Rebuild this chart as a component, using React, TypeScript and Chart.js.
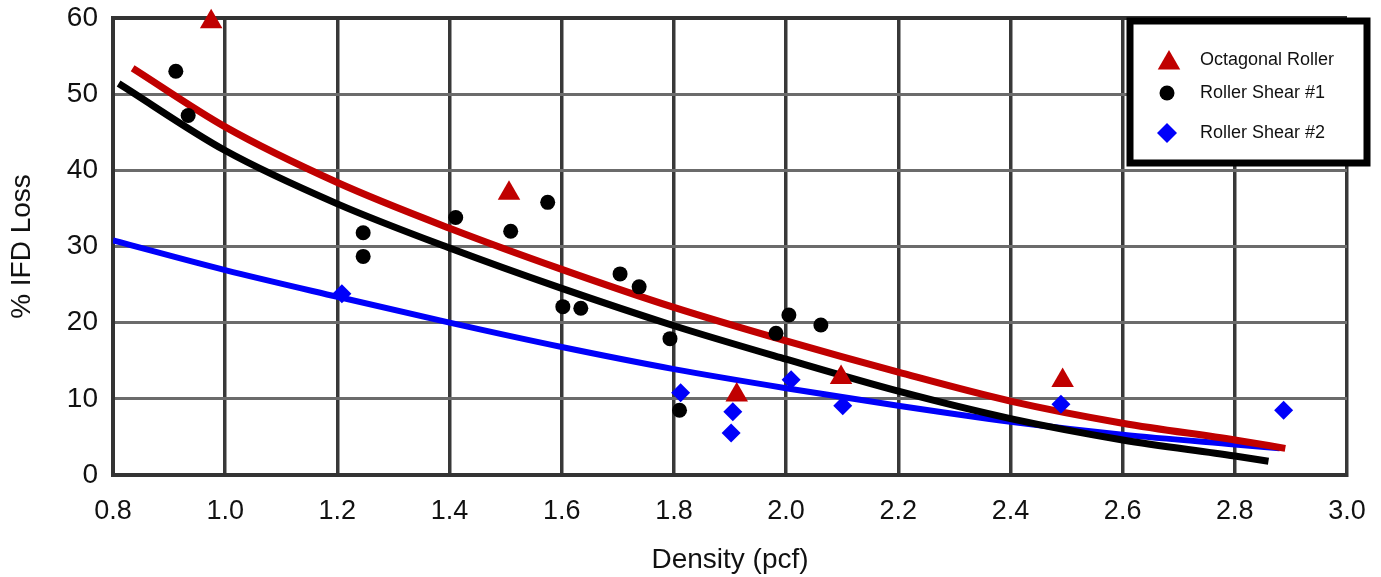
import React, { useEffect, useRef } from "react";
import { Chart, registerables } from "chart.js";

Chart.register(...registerables);

// ---- Data ----
const seriesNames = ["Octagonal Roller", "Roller Shear #1", "Roller Shear #2"];

const octagonalX = [0.975, 1.506, 1.912, 2.098, 2.493];
const octagonalY = [59.5, 37.0, 10.5, 12.8, 12.4];

const shear1X = [0.912, 0.934, 1.246, 1.246, 1.411, 1.509, 1.575, 1.602, 1.634, 1.704, 1.738, 1.793, 1.81, 1.982, 2.005, 2.062];
const shear1Y = [53.0, 47.2, 31.8, 28.7, 33.8, 32.0, 35.8, 22.1, 21.9, 26.4, 24.7, 17.9, 8.5, 18.6, 21.0, 19.7];

const shear2X = [1.208, 1.812, 1.905, 1.902, 2.009, 2.101, 2.49, 2.887];
const shear2Y = [23.8, 10.8, 8.3, 5.5, 12.5, 9.1, 9.3, 8.5];

const octagonalFitX = [0.835, 1.0, 1.2, 1.4, 1.6, 1.8, 2.0, 2.2, 2.4, 2.6, 2.8, 2.89];
const octagonalFitY = [53.4, 45.7, 38.4, 32.4, 27.0, 22.0, 17.6, 13.5, 9.7, 6.8, 4.6, 3.5];

const shear1FitX = [0.81, 1.0, 1.2, 1.4, 1.6, 1.8, 2.0, 2.2, 2.4, 2.6, 2.8, 2.86];
const shear1FitY = [51.4, 42.6, 35.6, 29.8, 24.5, 19.6, 15.2, 11.0, 7.4, 4.6, 2.5, 1.8];

const shear2FitX = [0.8, 1.0, 1.2, 1.4, 1.6, 1.8, 2.0, 2.2, 2.4, 2.6, 2.8, 2.88];
const shear2FitY = [30.8, 26.9, 23.4, 20.0, 16.8, 13.9, 11.4, 9.1, 7.0, 5.3, 4.0, 3.5];

const xMin = 0.8;
const xMax = 3.0;
const xStep = 0.2;
const yMin = 0;
const yMax = 60;
const yStep = 10;

// ---- Styles ----
const RED = "rgb(192,0,0)";
const BLACK = "#000000";
const BLUE = "rgb(0,0,250)";
const FONT = "'Liberation Sans', Arial, sans-serif";

const toPoints = (xs: number[], ys: number[]) => xs.map((x, i) => ({ x, y: ys[i] }));

function drawMarker(ctx: CanvasRenderingContext2D, style: string, x: number, y: number, r: number, color: string) {
  ctx.fillStyle = color;
  ctx.beginPath();
  if (style === "triangle") {
    ctx.moveTo(x, y - r);
    ctx.lineTo(x + r * Math.sin(Math.PI / 3), y + r * 0.5);
    ctx.lineTo(x - r * Math.sin(Math.PI / 3), y + r * 0.5);
    ctx.closePath();
  } else if (style === "circle") {
    ctx.arc(x, y, r, 0, Math.PI * 2);
  } else {
    ctx.moveTo(x, y - r);
    ctx.lineTo(x + r, y);
    ctx.lineTo(x, y + r);
    ctx.lineTo(x - r, y);
    ctx.closePath();
  }
  ctx.fill();
}

const boxLegend = {
  id: "boxLegend",
  afterDraw(chart: any) {
    const ctx: CanvasRenderingContext2D = chart.ctx;
    ctx.save();
    const bx = 1130, by = 21, bw = 237, bh = 142;
    ctx.fillStyle = "#ffffff";
    ctx.fillRect(bx, by, bw, bh);
    ctx.lineWidth = 7;
    ctx.strokeStyle = "#000";
    ctx.strokeRect(bx, by, bw, bh);
    const items = [
      { style: "triangle", r: 13, color: RED, y: 63, mx: 1169 },
      { style: "circle", r: 7.5, color: BLACK, y: 93, mx: 1167 },
      { style: "rectRot", r: 10, color: BLUE, y: 133, mx: 1167 },
    ];
    ctx.font = `18px ${FONT}`;
    ctx.textBaseline = "middle";
    ctx.textAlign = "left";
    items.forEach((it, i) => {
      drawMarker(ctx, it.style, it.mx, it.y, it.r, it.color);
      ctx.fillStyle = "#111";
      ctx.fillText(seriesNames[i], 1200, i === 0 ? 60 : it.y);
    });
    ctx.restore();
  },
};

export default function App() {
  const ref = useRef<HTMLCanvasElement | null>(null);

  useEffect(() => {
    if (!ref.current) return;
    const chart = new Chart(ref.current, {
      type: "scatter",
      data: {
        datasets: [
          {
            label: seriesNames[0],
            data: toPoints(octagonalX, octagonalY),
            pointStyle: "triangle",
            pointRadius: 13,
            backgroundColor: RED,
            borderColor: RED,
            borderWidth: 0,
            order: 0,
            clip: false,
          } as any,
          {
            label: seriesNames[1],
            data: toPoints(shear1X, shear1Y),
            pointStyle: "circle",
            pointRadius: 7.5,
            backgroundColor: BLACK,
            borderColor: BLACK,
            borderWidth: 0,
            order: 0,
          },
          {
            label: seriesNames[2],
            data: toPoints(shear2X, shear2Y),
            pointStyle: "rectRot",
            pointRadius: 9.5,
            backgroundColor: BLUE,
            borderColor: BLUE,
            borderWidth: 0,
            order: 0,
          },
          {
            type: "line",
            label: "Octagonal fit",
            data: toPoints(octagonalFitX, octagonalFitY),
            borderColor: RED,
            borderWidth: 7,
            pointRadius: 0,
            showLine: true,
            fill: false,
            cubicInterpolationMode: "monotone",
            order: 1,
          } as any,
          {
            type: "line",
            label: "Shear 1 fit",
            data: toPoints(shear1FitX, shear1FitY),
            borderColor: BLACK,
            borderWidth: 7,
            pointRadius: 0,
            showLine: true,
            fill: false,
            cubicInterpolationMode: "monotone",
            order: 2,
          } as any,
          {
            type: "line",
            label: "Shear 2 fit",
            data: toPoints(shear2FitX, shear2FitY),
            borderColor: BLUE,
            borderWidth: 6,
            pointRadius: 0,
            showLine: true,
            fill: false,
            cubicInterpolationMode: "monotone",
            order: 3,
          } as any,
        ],
      },
      options: {
        responsive: false,
        animation: false,
        devicePixelRatio: 1,
        layout: { padding: { top: 18, right: 34, left: 0, bottom: 0 } },
        plugins: {
          legend: { display: false },
          tooltip: { enabled: false },
        },
        scales: {
          x: {
            type: "linear",
            min: xMin,
            max: xMax,
            afterFit: (s: any) => {
              s.height = 102;
              s.paddingLeft = 0;
              s.paddingRight = 0;
            },
            ticks: {
              stepSize: xStep,
              callback: (v: any) => Number(v).toFixed(1),
              font: { family: FONT, size: 27 },
              color: "#111",
              padding: 20,
              maxRotation: 0,
            },
            grid: { color: "#383838", lineWidth: 3.5, drawTicks: false },
            border: { display: true, color: "#333", width: 4 },
            title: {
              display: true,
              text: "Density (pcf)",
              font: { family: FONT, size: 28 },
              color: "#111",
              padding: { top: 0, bottom: 0 },
            },
          },
          y: {
            type: "linear",
            min: yMin,
            max: yMax,
            afterFit: (s: any) => {
              s.width = 113;
              s.paddingTop = 0;
              s.paddingBottom = 0;
            },
            ticks: {
              stepSize: yStep,
              font: { family: FONT, size: 28 },
              color: "#111",
              padding: 15,
            },
            grid: {
              color: (c: any) => (c.tick && c.tick.value === yMax ? "#333" : "#6b6b6b"),
              lineWidth: (c: any) => (c.tick && c.tick.value === yMax ? 4 : 3),
              drawTicks: false,
            },
            border: { display: true, color: "#333", width: 4 },
            title: {
              display: true,
              text: "% IFD Loss",
              font: { family: FONT, size: 28 },
              color: "#111",
              padding: { top: 5, bottom: 0 },
            },
          },
        },
      },
      plugins: [boxLegend],
    } as any);
    return () => chart.destroy();
  }, []);

  return (
    <div style={{ position: "fixed", left: 0, top: 0, width: 1381, height: 577, background: "#fff" }}>
      <canvas ref={ref} width={1381} height={577} style={{ display: "block" }} />
    </div>
  );
}
